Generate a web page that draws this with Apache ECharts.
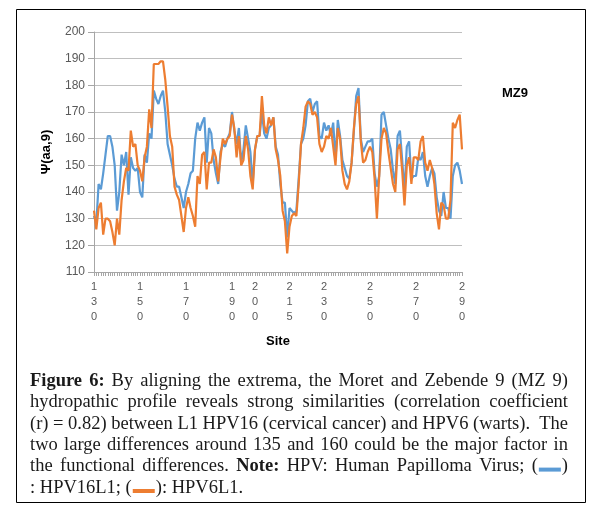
<!DOCTYPE html>
<html><head><meta charset="utf-8">
<script src="https://cdn.jsdelivr.net/npm/echarts@6/dist/echarts.min.js"></script>
<style>html,body{margin:0;padding:0;background:#fff}#c{width:595px;height:510px}</style>
</head><body><div id="c"></div>
<script>
const sites = ['130','131','132','133','134','135','136','137','138','139','140','141','142','143','144','145','146','147','148','149','150','151','152','153','154','155','156','157','158','159','160','161','162','163','164','165','166','167','168','169','170','171','172','173','174','175','176','177','178','179','180','181','182','183','184','185','186','187','188','189','190','191','192','193','194','195','196','197','198','199','200','201','202','203','204','205','206','207','208','209','210','211','212','213','214','215','216','217','218','219','220','221','222','223','224','225','226','227','228','229','230','231','232','233','234','235','236','237','238','239','240','241','242','243','244','245','246','247','248','249','250','251','252','253','254','255','256','257','258','259','260','261','262','263','264','265','266','267','268','269','270','271','272','273','274','275','276','277','278','279','280','281','282','283','284','285','286','287','288','289','290'];

const hpv16L1 = [131,128,143,141,147,154,161,161,157,150,
133,140,154,150,155,139,153,149,148,149,
140,138,154,151,162,160,178,175,173,176,
178,170,158,154,150,145,142,142,138,134,
140,143,147,148,160,166,163,166,168,151,
164,162,152,147,143,155,158,157,160,162,
170,163,158,164,151,156,165,160,155,143,
156,161,161,170,162,160,164,165,168,157,
154,143,136,136,123,134,133,132,133,145,
158,160,165,174,175,170,173,174,161,160,
166,163,165,161,166,152,167,161,152,149,
146,145,151,163,176,179,160,155,157,159,
159,160,147,142,146,169,170,165,160,156,
148,143,161,163,152,140,157,159,145,146,
146,153,152,155,146,142,146,149,147,138,
133,131,140,134,134,130,146,150,151,148,
143];

const hpv6L1 = [133,126,134,136,124,130,130,129,125,120,
130,124,137,144,149,148,163,157,158,150,
148,144,153,157,171,164,188,188,188,189,
189,182,172,161,157,142,139,137,131,125,
134,138,134,131,127,146,143,154,155,141,
151,151,156,153,144,153,160,158,160,161,
169,164,153,161,150,152,161,156,146,141,
156,161,161,176,165,162,168,165,168,156,
152,146,133,129,117,127,131,132,131,143,
158,164,172,174,173,169,170,168,158,155,
157,161,160,164,157,150,164,160,148,143,
141,144,151,164,173,176,159,151,152,155,
157,155,145,130,146,160,164,162,155,149,
143,140,156,158,148,135,150,153,143,153,
153,152,159,161,151,148,152,149,143,132,
126,136,135,130,130,137,166,164,167,169,
156];

const xTickLabels = ['130','150','170','190','200','215','230','250','270','290'];
const yMin = 110, yMax = 200, yStep = 10;
const seriesNames = ['HPV16L1', 'HPV6L1'];

const captionLines = [
  "*Figure* *6:* By aligning the extrema, the Moret and Zebende 9 (MZ 9)",
  "hydropathic profile reveals strong similarities (correlation coefficient",
  "(r) = 0.82) between L1 HPV16 (cervical cancer) and HPV6 (warts).  The",
  "two large differences around 135 and 160 could be the major factor in",
  "the functional differences. *Note:* HPV: Human Papilloma Virus; ([B])",
  ": HPV16L1; ([O]): HPV6L1."
];

const BLUE = '#5B9BD5', ORANGE = '#ED7D31';
let FS = 18.5;
const FF = '"Liberation Serif", "Times New Roman", serif';
const capLeft = 30, capRight = 568, capTop = 381, capLH = 21.4;
const swW = 24;

const mctx = document.createElement('canvas').getContext('2d');
function measure(t, bold) { mctx.font = (bold ? 'bold ' : '') + FS + 'px ' + FF; return mctx.measureText(t).width; }

function parseWord(w) {
  const m = w.match(/^\*(.*)\*$/);
  if (m) return [{ text: m[1], bold: true }];
  return w.split(/(\[B\]|\[O\])/).filter(s => s.length).map(s =>
    s === '[B]' ? { sw: BLUE } : s === '[O]' ? { sw: ORANGE } : { text: s, bold: false });
}
function segW(s) { return s.sw ? swW : measure(s.text, s.bold); }

function layoutLine(line) {
  const parts = line.split(/( +)/);
  const words = [], gaps = [];
  parts.forEach(p => { if (/^ +$/.test(p)) gaps.push(p.length); else if (p.length) words.push(parseWord(p)); });
  const wWidths = words.map(w => w.reduce((a, s) => a + segW(s), 0));
  const total = wWidths.reduce((a, b) => a + b, 0);
  return { words, gaps, total, gapUnits: gaps.reduce((a, b) => a + b, 0) };
}
// shrink font if any justified line would get gaps narrower than 3px
for (let k = 0; k < 20; k++) {
  const ok = captionLines.slice(0, -1).every(l => { const L = layoutLine(l); return (capRight - capLeft - L.total) / L.gapUnits >= 3; });
  if (ok) break;
  FS -= 0.25;
}

const graphics = [];
graphics.push({ type: 'rect', shape: { x: 16.5, y: 9.5, width: 569, height: 493 }, style: { fill: 'none', stroke: '#000', lineWidth: 1 } });
graphics.push({ type: 'text', style: { text: 'MZ9', x: 515, y: 93, fill: '#000', fontSize: 13, fontWeight: 'bold', fontFamily: 'Liberation Sans, Arial, sans-serif', align: 'center', verticalAlign: 'middle' } });

captionLines.forEach((line, li) => {
  const L = layoutLine(line);
  const isLast = li === captionLines.length - 1;
  const unit = isLast ? measure(' ', false) : (capRight - capLeft - L.total) / L.gapUnits;
  const y = capTop + li * capLH;
  let x = capLeft;
  L.words.forEach((w, wi) => {
    w.forEach(s => {
      if (s.sw) {
        graphics.push({ type: 'rect', shape: { x: x + 1, y: y + 1, width: swW - 2, height: 4 }, style: { fill: s.sw } });
      } else {
        graphics.push({ type: 'text', style: { text: s.text, x: x, y: y, fill: '#1a1a1a', fontSize: FS, fontFamily: FF, fontWeight: s.bold ? 'bold' : 'normal', align: 'left', verticalAlign: 'middle' } });
      }
      x += segW(s);
    });
    if (wi < L.gaps.length) x += L.gaps[wi] * unit;
  });
});

const chart = echarts.init(document.getElementById('c'), null, { renderer: 'canvas' });
chart.setOption({
  animation: false,
  backgroundColor: '#fff',
  grid: { left: 94, right: 133, top: 32, height: 240, containLabel: false },
  xAxis: {
    type: 'category', data: sites, boundaryGap: false,
    axisLine: { lineStyle: { color: '#a6a6a6', width: 1 } },
    axisTick: { show: true, interval: 0, length: 4, lineStyle: { color: '#a6a6a6' } },
    axisLabel: {
      interval: (idx, val) => xTickLabels.includes(val),
      formatter: v => v.split('').join('\n'),
      fontSize: 11, lineHeight: 15, color: '#595959', margin: 7,
      fontFamily: 'Liberation Sans, Arial, sans-serif'
    },
    splitLine: { show: false },
    name: 'Site', nameLocation: 'middle', nameGap: 63,
    nameTextStyle: { fontSize: 13, fontWeight: 'bold', color: '#000', fontFamily: 'Liberation Sans, Arial, sans-serif' }
  },
  yAxis: {
    type: 'value', min: yMin, max: yMax, interval: yStep,
    axisLine: { show: true, lineStyle: { color: '#a6a6a6' } },
    axisTick: { show: true, length: 6, lineStyle: { color: '#a6a6a6' } },
    axisLabel: { fontSize: 12, color: '#595959', margin: 9, fontFamily: 'Liberation Sans, Arial, sans-serif' },
    splitLine: { lineStyle: { color: '#bfbfbf', width: 1 } },
    name: 'Ψ(aa,9)', nameLocation: 'middle', nameGap: 41,
    nameTextStyle: { fontSize: 13, fontWeight: 'bold', color: '#000', fontFamily: 'Liberation Sans, Arial, sans-serif' }
  },
  series: [
    { name: seriesNames[0], type: 'line', data: hpv16L1, symbol: 'none', lineStyle: { color: BLUE, width: 2.2 }, itemStyle: { color: BLUE }, z: 2 },
    { name: seriesNames[1], type: 'line', data: hpv6L1, symbol: 'none', lineStyle: { color: ORANGE, width: 2.2 }, itemStyle: { color: ORANGE }, z: 3 }
  ],
  graphic: graphics
});
</script>
</body></html>
